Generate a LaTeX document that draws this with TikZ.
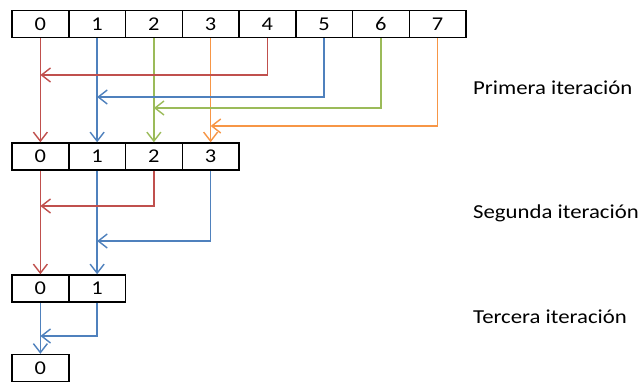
\documentclass[tikz,border=0pt]{standalone}
\usepackage{fontspec}
\setmainfont[FakeStretch=1.15]{Carlito}
\usetikzlibrary{arrows.meta}
\definecolor{cred}{HTML}{C0504D}
\definecolor{cblue}{HTML}{4F81BD}
\definecolor{cgreen}{HTML}{9BBB59}
\definecolor{corange}{HTML}{F79646}
\tikzset{
  cell/.style={draw=black, line width=1.5pt, minimum width=56.75pt, minimum height=27pt, inner sep=0pt, font=\fontsize{19.5}{22}\selectfont},
  conn/.style={line width=1.4pt, -{Straight Barb[length=9pt,width=14pt,line width=1.4pt]}},
  lbl/.style={anchor=west, inner sep=0pt, font=\fontsize{19.8}{22}\selectfont}
}
\begin{document}
\begin{tikzpicture}[x=1pt,y=-1pt]
\useasboundingbox (0,0) rectangle (642,381);
\fill[white] (0,0) rectangle (642,381);
% rows
\foreach \i in {0,...,7}{
  \node[cell] (a\i) at ({40.375+56.75*\i},24) {\i};
}
\foreach \i in {0,...,3}{
  \node[cell] (b\i) at ({40.375+56.75*\i},156.5) {\i};
}
\foreach \i in {0,1}{
  \node[cell] (c\i) at ({40.375+56.75*\i},288.5) {\i};
}
\node[cell] (d0) at (40.375,368) {0};
% first iteration
\coordinate (m4) at (a0 |- 0,75);
\coordinate (m5) at (a1 |- 0,97);
\coordinate (m6) at (a2 |- 0,108);
\coordinate (m7) at (a3 |- 0,126);
\draw[conn,cred] (a0.south) -- (b0.north);
\draw[conn,cblue] (a1.south) -- (b1.north);
\draw[conn,cgreen] (a2.south) -- (b2.north);
\draw[conn,corange] (a3.south) -- (b3.north);
\draw[conn,cred] (a4.south) |- (m4);
\draw[conn,cblue] (a5.south) |- (m5);
\draw[conn,cgreen] (a6.south) |- (m6);
\draw[conn,corange] (a7.south) |- (m7);
% second iteration
\coordinate (n2) at (b0 |- 0,206);
\coordinate (n3) at (b1 |- 0,241);
\draw[conn,cred] (b0.south) -- (c0.north);
\draw[conn,cblue] (b1.south) -- (c1.north);
\draw[conn,cred] (b2.south) |- (n2);
\draw[conn,cblue] (b3.south) |- (n3);
% third iteration
\coordinate (p1) at (c0 |- 0,336);
\draw[conn,cblue] (c0.south) -- (d0.north);
\draw[conn,cblue] (c1.south) |- (p1);
% labels
\node[lbl] (l1) at (473,88) {Primera iteración};
\node[lbl] (l2) at (473,213) {Segunda iteración};
\node[lbl] (l3) at (473,317) {Tercera iteración};
\end{tikzpicture}
\end{document}
